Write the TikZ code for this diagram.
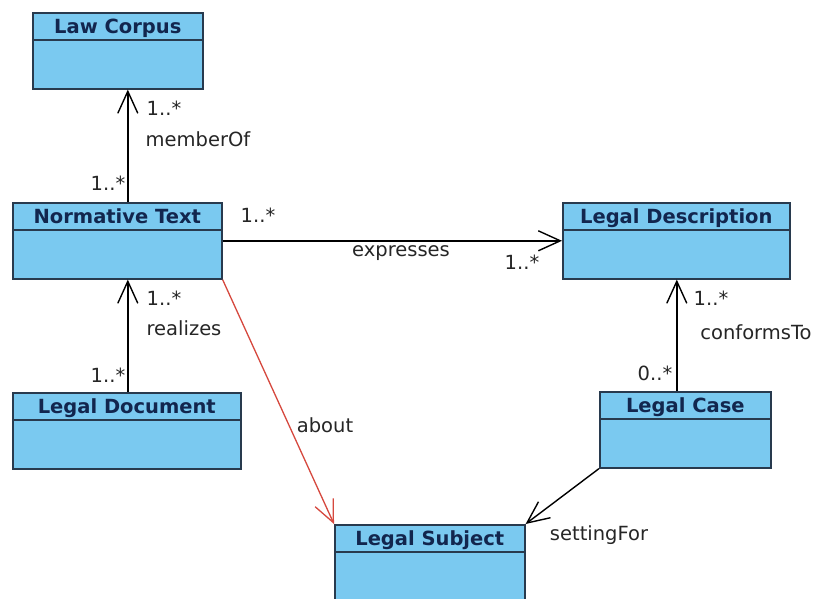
\documentclass[tikz,border=0pt]{standalone}
\usepackage{fontspec}
\setmainfont{DejaVu Sans}
\usetikzlibrary{arrows.meta,positioning}

\definecolor{classfill}{RGB}{122,201,240}
\definecolor{classline}{RGB}{40,58,78}
\definecolor{classtext}{RGB}{18,38,78}
\definecolor{aboutred}{RGB}{214,72,62}

\tikzset{
  umlclass/.style={draw=classline, fill=classfill, line width=1.6pt,
    anchor=north west, minimum width=#1, inner sep=0pt,
    text height=21pt, text depth=55pt, text=classtext,
    font=\bfseries\fontsize{19.5}{19.5}\selectfont,
    path picture={\draw[classline, line width=1.6pt]
      ([yshift=-27pt]path picture bounding box.north west) --
      ([yshift=-27pt]path picture bounding box.north east);}},
  assoc/.style={line width=1.4pt, -{Straight Barb[length=22pt,width=20pt]}},
  mult/.style={font=\fontsize{19.5}{19.5}\selectfont, text=black!85, inner sep=0pt}
}

\begin{document}
\begin{tikzpicture}[x=1pt,y=-1pt]
      \fill[white] (0,0) rectangle (819,599);
      \useasboundingbox (0,0) rectangle (819,599);

      % Classes
      \node[umlclass=170pt] (lawcorpus) at (32,12) {Law Corpus};
      \node[umlclass=209pt] (normtext) at (12,202) {Normative Text};
      \node[umlclass=228pt] (legaldoc) at (12,392) {Legal Document};
      \node[umlclass=227pt] (legaldesc) at (562,202) {Legal Description};
      \node[umlclass=171pt] (legalcase) at (599,391) {Legal Case};
      \node[umlclass=190pt] (legalsubj) at (334,524) {Legal Subject};

      % Associations
      \draw[assoc] ([xshift=10.5pt]normtext.north) -- ([xshift=10pt]lawcorpus.south);
      \draw[assoc] (normtext.east) -- (legaldesc.west);
      \draw[assoc] ([xshift=1pt]legaldoc.north) -- ([xshift=10.5pt]normtext.south);
      \draw[assoc] ([xshift=-8.5pt]legalcase.north) -- ([xshift=0.5pt]legaldesc.south);
      \draw[assoc] (legalcase.south west) -- (legalsubj.north east);
      \draw[assoc, draw=aboutred, line width=1.3pt] (normtext.south east) -- (legalsubj.north west);

      % memberOf
      \node[mult] (mo1) at (164,108) {1..*};
      \node[mult] (molbl) at (198,139) {memberOf};
      \node[mult] (mo2) at (108,183) {1..*};

      % expresses
      \node[mult] (ex1) at (258,215) {1..*};
      \node[mult] (exlbl) at (401,253) {expresses};
      \node[mult] (ex2) at (522,262) {1..*};

      % realizes
      \node[mult] (re1) at (164,298) {1..*};
      \node[mult] (relbl) at (184,328) {realizes};
      \node[mult] (re2) at (108,375) {1..*};

      % conformsTo
      \node[mult] (co1) at (711,298) {1..*};
      \node[mult] (colbl) at (756,332) {conformsTo};
      \node[mult] (co2) at (655,373) {0..*};

      % about, settingFor
      \node[mult] (ablbl) at (325,425) {about};
      \node[mult] (sflbl) at (599,535) {settingFor};
\end{tikzpicture}
\end{document}
